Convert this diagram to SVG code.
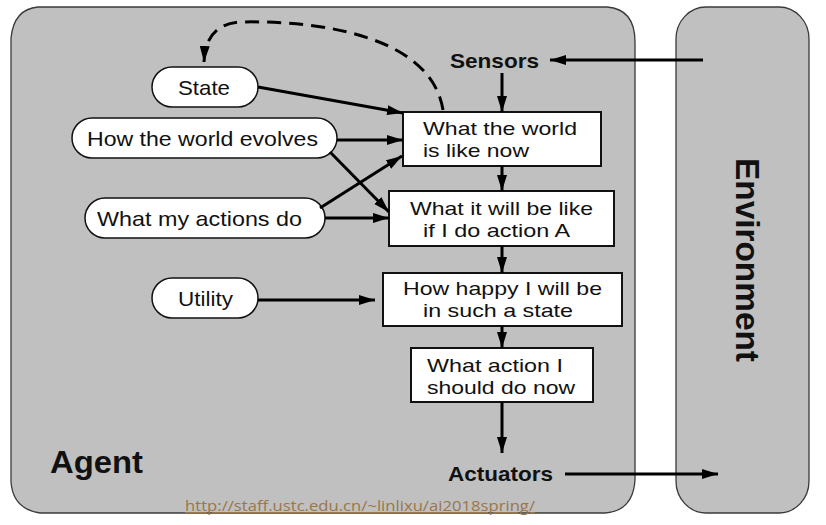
<svg xmlns="http://www.w3.org/2000/svg" width="826" height="525" viewBox="0 0 826 525">
<style>
.panel{fill:#c0c0c0;stroke:#3a3a3a;stroke-width:1.3}
.pill{fill:#fff;stroke:#111;stroke-width:1.5}
.box{fill:#fff;stroke:#111;stroke-width:2}
.t{font-family:"Liberation Sans",Arial,sans-serif;font-size:21px;fill:#111}
.bt{font-family:"Liberation Sans",Arial,sans-serif;font-size:19px;fill:#111}
.b{font-family:"Liberation Sans",Arial,sans-serif;font-weight:bold;fill:#111}
.c{fill:none;stroke:#000;stroke-width:3;marker-end:url(#ah)}
.url{font-family:"Open Sans","DejaVu Sans",sans-serif;font-size:15px;fill:#9a7648;text-decoration:underline}
</style>
<defs>
<marker id="ah" markerUnits="userSpaceOnUse" markerWidth="18" markerHeight="12" refX="16" refY="5" orient="auto">
<path d="M0,0 L16,5 L0,10 Z" fill="#000" stroke="none"/>
</marker>
</defs>
<rect width="826" height="525" fill="#fff"/>
<g id="agent">
<path class="panel" d="M38,7 L607,7 Q635,9 635,42 L635,480 Q633,511 605,513 L40,513 Q13,509 11,482 L11,38 Q14,9 38,7 Z"/>
<text class="b" x="50" y="473" font-size="32" textLength="93" lengthAdjust="spacingAndGlyphs">Agent</text>
</g>
<g id="environment">
<rect class="panel" x="676" y="7" width="133" height="506" rx="30" ry="32"/>
<text class="b" font-size="33" transform="translate(736,158) rotate(90)" textLength="204" lengthAdjust="spacingAndGlyphs">Environment</text>
</g>
<g id="sensors"><text class="b" x="450" y="68" font-size="21" textLength="89" lengthAdjust="spacingAndGlyphs">Sensors</text></g>
<g id="actuators"><text class="b" x="448" y="481" font-size="21" textLength="105" lengthAdjust="spacingAndGlyphs">Actuators</text></g>
<g id="state"><rect class="pill" x="152" y="67" width="106" height="40" rx="20"/><text class="t" x="178" y="95" textLength="52" lengthAdjust="spacingAndGlyphs">State</text></g>
<g id="evolves"><rect class="pill" x="72" y="118" width="265" height="40" rx="20"/><text class="t" x="87" y="146" textLength="231" lengthAdjust="spacingAndGlyphs">How the world evolves</text></g>
<g id="actions"><rect class="pill" x="85" y="198" width="240" height="40" rx="20"/><text class="t" x="97" y="226" textLength="205" lengthAdjust="spacingAndGlyphs">What my actions do</text></g>
<g id="utility"><rect class="pill" x="152" y="278" width="106" height="40" rx="20"/><text class="t" x="178" y="306" textLength="55" lengthAdjust="spacingAndGlyphs">Utility</text></g>
<g id="world-now"><rect class="box" x="403" y="112" width="198" height="54"/>
<text class="bt" x="423" y="135" textLength="154" lengthAdjust="spacingAndGlyphs">What the world</text>
<text class="bt" x="423" y="157" textLength="106" lengthAdjust="spacingAndGlyphs">is like now</text></g>
<g id="will-be"><rect class="box" x="389" y="191" width="225" height="55"/>
<text class="bt" x="410" y="215" textLength="183" lengthAdjust="spacingAndGlyphs">What it will be like</text>
<text class="bt" x="423" y="237" textLength="147" lengthAdjust="spacingAndGlyphs">if I do action A</text></g>
<g id="happy"><rect class="box" x="383" y="273" width="239" height="53"/>
<text class="bt" x="403" y="295" textLength="199" lengthAdjust="spacingAndGlyphs">How happy I will be</text>
<text class="bt" x="423" y="317" textLength="150" lengthAdjust="spacingAndGlyphs">in such a state</text></g>
<g id="action"><rect class="box" x="411" y="348" width="182" height="54"/>
<text class="bt" x="427" y="372" textLength="136" lengthAdjust="spacingAndGlyphs">What action I</text>
<text class="bt" x="427" y="394" textLength="148" lengthAdjust="spacingAndGlyphs">should do now</text></g>
<g id="connectors">
<path class="c" d="M703,60 L550,60"/>
<path class="c" d="M565,474 L718,474"/>
<path class="c" d="M502,73 L502,112"/>
<path class="c" d="M502,166 L502,191"/>
<path class="c" d="M502,246 L502,273"/>
<path class="c" d="M502,326 L502,348"/>
<path class="c" d="M502,402 L502,453"/>
<path class="c" d="M258,87 L403,113"/>
<path class="c" d="M337,140 L403,140"/>
<path class="c" d="M330,152 L389,212"/>
<path class="c" d="M320,208 L402,156"/>
<path class="c" d="M325,218 L389,218"/>
<path class="c" d="M258,300 L375,300"/>
<path class="c" d="M443,110 C432,40 330,20 240,22 C214,24 205,40 204,62" stroke-dasharray="14 8"/>
</g>
<text class="url" x="185" y="511" textLength="350" lengthAdjust="spacingAndGlyphs">http://staff.ustc.edu.cn/~linlixu/ai2018spring/</text>
</svg>
